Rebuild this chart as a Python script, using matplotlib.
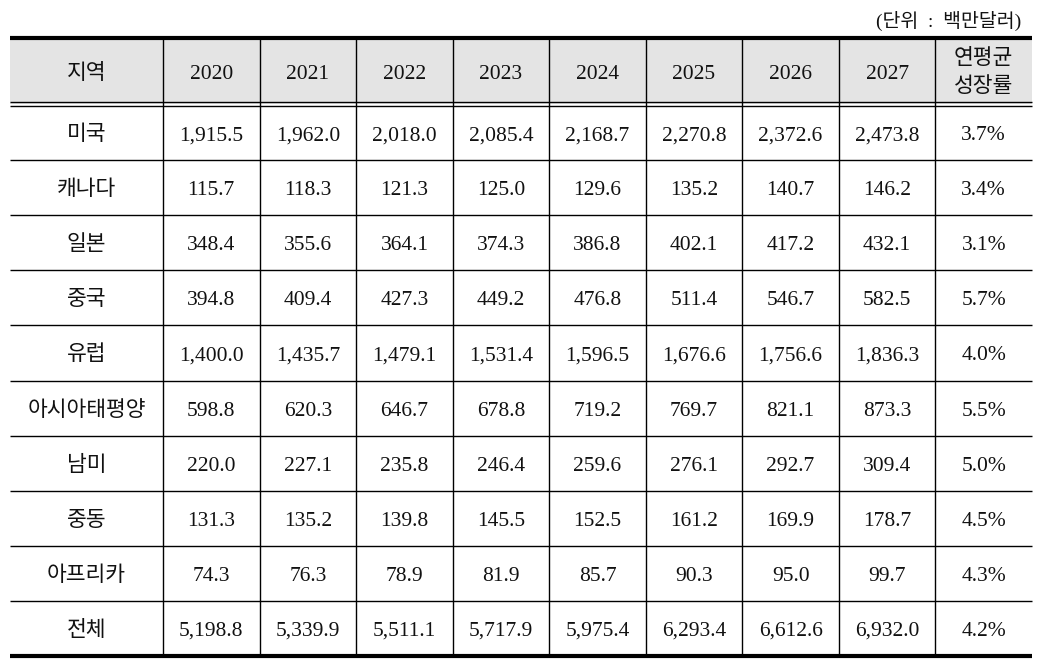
import matplotlib
matplotlib.use('Agg')
import matplotlib.pyplot as plt

plt.rcParams['font.family'] = ['Liberation Serif', 'Noto Sans CJK KR', 'DejaVu Sans']

# 데이터
years = ['2020', '2021', '2022', '2023', '2024', '2025', '2026', '2027']
regions = ['미국', '캐나다', '일본', '중국', '유럽', '아시아태평양', '남미', '중동', '아프리카', '전체']
values = [
    [1915.5, 1962.0, 2018.0, 2085.4, 2168.7, 2270.8, 2372.6, 2473.8],
    [115.7, 118.3, 121.3, 125.0, 129.6, 135.2, 140.7, 146.2],
    [348.4, 355.6, 364.1, 374.3, 386.8, 402.1, 417.2, 432.1],
    [394.8, 409.4, 427.3, 449.2, 476.8, 511.4, 546.7, 582.5],
    [1400.0, 1435.7, 1479.1, 1531.4, 1596.5, 1676.6, 1756.6, 1836.3],
    [598.8, 620.3, 646.7, 678.8, 719.2, 769.7, 821.1, 873.3],
    [220.0, 227.1, 235.8, 246.4, 259.6, 276.1, 292.7, 309.4],
    [131.3, 135.2, 139.8, 145.5, 152.5, 161.2, 169.9, 178.7],
    [74.3, 76.3, 78.9, 81.9, 85.7, 90.3, 95.0, 99.7],
    [5198.8, 5339.9, 5511.1, 5717.9, 5975.4, 6293.4, 6612.6, 6932.0],
]
cagr = [3.7, 3.4, 3.1, 5.7, 4.0, 5.5, 5.0, 4.5, 4.3, 4.2]

W, H = 1041, 668
fig = plt.figure(figsize=(W / 100, H / 100), dpi=100)
ax = fig.add_axes([0, 0, 1, 1])
ax.set_xlim(0, W)
ax.set_ylim(H, 0)
ax.axis('off')

# 표 레이아웃
left, right = 10, 1032
first_w = 153
col_x = [left, left + first_w]
n_other = len(years) + 1
other_w = (right - left - first_w) / n_other
for i in range(n_other):
    col_x.append(col_x[-1] + other_w)

top, head_bot, bottom = 38, 103.5, 656
row_h = (bottom - 105) / len(regions)
row_y = [105 + i * row_h for i in range(len(regions) + 1)]

# 헤더 배경
ax.add_patch(plt.Rectangle((left, top), right - left, head_bot - top,
                           facecolor='#e4e4e4', edgecolor='none', zorder=0))

fs = 15.5
text_color = '#111111'
off = 7.5  # 가운데 -> 기준선


def cell(cx, cy, s):
    ax.text(cx, cy + off, s, ha='center', va='baseline',
            fontsize=fs, color=text_color)


headers = ['지역'] + years
head_c = (top + head_bot) / 2 + 1
for j, h in enumerate(headers):
    cell((col_x[j] + col_x[j + 1]) / 2, head_c, h)
cx_last = (col_x[-2] + col_x[-1]) / 2
cell(cx_last, 57, '연평균')
cell(cx_last, 84, '성장률')

for i, reg in enumerate(regions):
    cy = (row_y[i] + row_y[i + 1]) / 2
    cell((col_x[0] + col_x[1]) / 2, cy, reg)
    for j, v in enumerate(values[i]):
        cell((col_x[j + 1] + col_x[j + 2]) / 2, cy, f'{v:,.1f}')
    cell(cx_last, cy, f'{cagr[i]:.1f}%')

# 선
ax.hlines(top, left, right, color='black', linewidth=3)
ax.hlines(bottom, left, right, color='black', linewidth=3)
ax.hlines([102, 105.5], left, right, color='black', linewidth=1)
ax.hlines(row_y[1:-1], left, right, color='black', linewidth=1)
ax.vlines(col_x[1:-1], top, bottom, color='black', linewidth=1)

# 단위
ax.text(1021, 21, '(단위  :  백만달러)', ha='right', va='center',
        fontsize=14, color=text_color)

fig.savefig('out.png', dpi=100)
